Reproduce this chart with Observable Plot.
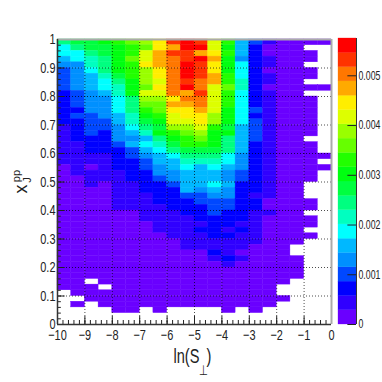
<!DOCTYPE html>
<html><head><meta charset="utf-8">
<script src="https://cdn.jsdelivr.net/npm/d3@7"></script>
<script src="https://cdn.jsdelivr.net/npm/@observablehq/plot@0.6"></script>
<style>
html,body{margin:0;padding:0;background:#fff}
#chart{position:relative;width:382px;height:382px;overflow:hidden}
#chart svg{position:absolute;left:0;top:0;background:transparent}
</style></head><body><div id="chart"></div>
<script>
// Colour-band palette, lowest band first (ROOT-style 20 contours)
const palette = ["#6a00ff","#3000ff","#0000ff","#0048ff","#0090ff","#00b8ff","#00ffff","#00ffc0","#00ff80","#00ff40",
  "#00ff10","#22ff00","#66ff00","#99ff00","#ddff00","#ffee00","#ffaa00","#ff7700","#ff3300","#ff0000"];
const bandWidth = 0.0002875;            // z per band
const nBands = 20;
const binX = 0.5, binY = 0.02;          // histogram bin widths
// One string per x bin (left to right), one character per y bin (top to bottom).
// Character = colour band in base 20; "." = empty bin.
const columns = [
"8665433332222221111111000"+"0000000000000000000"+"......",
"9866444443332322221111110"+"00000000000000000000"+"."+"0"+"...",
"9987765554444333322211011"+"1"+"0000000000000000"+"."+"000"+"....",
"a998887665444433222211111"+"000000000000000000"+"."+"000"+"...",
"baaaaa9877666554"+"443222211"+"11111"+"000000000000000000"+"..",
"cbbcbbbaaa888776"+"545332222"+"11111"+"000000000000000000"+"..",
"dceefdddcedcba98"+"756543322"+"22"+"11111"+"000000000000000"+"...",
"ffgggffefedccba9"+"a87655443"+"2222"+"11111"+"00000000000000"+"..",
"igihhhhhhhfgfeed"+"ba9865544"+"3"+"2222"+"11111"+"000000000000"+"...",
"jjiijjjijghgffed"+"cbb987655"+"553222"+"111111"+"0000000000"+"...",
"ijgjiiihhihhgffe"+"dcb987555"+"543322212111"+"0000000000"+"...",
"eefgffggeeeeeddb"+"aaa987655"+"65433322221121"+"00000000"+"...",
"babaaabbcbbbaaa9"+"a88866544"+"544332221211121"+"00000000"+"..",
"5554666776666665"+"555544433"+"2222222"+"1211101"+"00000000"+"...",
"3222222222223233"+"332222222"+"22122111111"+"000000000000"+"..",
"1001101101111111"+"111111111"+"111001"+"0000000000000000"+"...",
"0000000000000000000000000000000000000000000"+".."+"0"+"....",
"000000000000000000000000000000000000"+".."+"0000"+"........",
"0.00.00.0."+"0000000"+"."+"0000000"+"..."+"00"+"."+"00"+"."+"0"+"...............",
"0"+"......."+"0"+"..........."+"0"+"."+"0"+"..........................."
];
const xMajor = d3.range(-10, 1, 1);
const xMinor = d3.range(0, 51).map(i => -10 + i * 0.2);
const yMajor = d3.range(0, 11).map(i => i / 10);
const yMinor = d3.range(0, 51).map(i => i / 50);
const zTicks = [0, 0.001, 0.002, 0.003, 0.004, 0.005];

const cells = [];
columns.forEach((s, i) => [...s].forEach((c, r) => {
  if (c !== ".") {
    const x1 = -10 + i * binX, y2 = 1 - r * binY;
    cells.push({x1, x2: x1 + binX, y1: y2 - binY, y2, band: parseInt(c, 20)});
  }
}));
const bands = d3.range(nBands).map(b => ({band: b, z1: b * bandWidth, z2: (b + 1) * bandWidth}));

const FONT = "'Liberation Sans',Arial,sans-serif";
const colorScale = {type: "ordinal", domain: d3.range(nBands), range: palette};

const main = Plot.plot({
  width: 382, height: 382,
  marginLeft: 57, marginRight: 51, marginTop: 39, marginBottom: 58,
  style: {background: "transparent", fontFamily: FONT, color: "#222"},
  x: {domain: [-10, 0]},
  y: {domain: [0, 1]},
  color: colorScale,
  marks: [
    Plot.rect(cells, {x1: "x1", x2: "x2", y1: "y1", y2: "y2", fill: "band", stroke: "band", strokeWidth: 0.4}),
    Plot.gridX(d3.range(-9, 0), {stroke: "#000", strokeOpacity: 0.7, strokeWidth: 1, strokeDasharray: "1 2"}),
    Plot.gridY(yMajor.slice(1, 10), {stroke: "#000", strokeOpacity: 0.7, strokeWidth: 1, strokeDasharray: "1 2"}),
    Plot.ruleX(xMinor, {y1: 0, y2: 0.014, stroke: "#222"}),
    Plot.ruleX(xMajor, {y1: 0, y2: 0.028, stroke: "#222"}),
    Plot.ruleY(yMinor, {x1: -10, x2: -9.86, stroke: "#222"}),
    Plot.ruleY(yMajor, {x1: -10, x2: -9.72, stroke: "#222"}),
    Plot.ruleX([0], {stroke: "#aaa", strokeWidth: 2}),
    Plot.ruleY([1], {stroke: "#aaa", strokeWidth: 2}),
    Plot.ruleX([-10], {stroke: "#333", strokeWidth: 1.5}),
    Plot.ruleY([0], {stroke: "#333", strokeWidth: 1.5}),
    Plot.axisX(xMajor, {tickSize: 0, tickPadding: 5, fontSize: 15, label: null, tickFormat: d => d < 0 ? "\u2212" + (-d) : "" + d}),
    Plot.axisY(yMajor, {tickSize: 0, tickPadding: 2, fontSize: 15, label: null, tickFormat: d => "" + d}),
    Plot.text(["ln(S"], {frameAnchor: "bottom", textAnchor: "start", lineAnchor: "middle", dx: -21, dy: 32, fontSize: 20}),
    Plot.text(["\u22A5"], {frameAnchor: "bottom", textAnchor: "middle", lineAnchor: "middle", dx: 9, dy: 46, fontSize: 14, fontFamily: "'DejaVu Sans',sans-serif"}),
    Plot.text([")"], {frameAnchor: "bottom", textAnchor: "start", lineAnchor: "middle", dx: 12, dy: 32, fontSize: 20}),
    Plot.text(["x"], {frameAnchor: "left", textAnchor: "middle", lineAnchor: "middle", rotate: -90, dx: -36, dy: 7, fontSize: 18}),
    Plot.text(["J"], {frameAnchor: "left", textAnchor: "middle", lineAnchor: "middle", rotate: -90, dx: -30, dy: -2, fontSize: 11}),
    Plot.text(["pp"], {frameAnchor: "left", textAnchor: "middle", lineAnchor: "middle", rotate: -90, dx: -41, dy: -6, fontSize: 11})
  ]
});

const bar = Plot.plot({
  width: 382, height: 382,
  marginLeft: 338, marginRight: 26, marginTop: 38, marginBottom: 58,
  style: {background: "transparent", fontFamily: FONT, color: "#222"},
  x: {domain: [0, 1], axis: null},
  y: {domain: [0, nBands * bandWidth], axis: null},
  color: colorScale,
  marks: [
    Plot.rect(bands, {x1: 0, x2: 1, y1: "z1", y2: "z2", fill: "band", stroke: "band", strokeWidth: 0.3}),
    Plot.ruleX([1], {stroke: "#333", strokeWidth: 1}),
    Plot.ruleY(zTicks, {x1: 0.52, x2: 1, stroke: "#222"}),
    Plot.axisY(zTicks, {anchor: "right", tickSize: 0, tickPadding: 2, fontSize: 12, label: null, tickFormat: d => d === 0 ? "0" : d3.format(".3f")(d)})
  ]
});
document.getElementById("chart").append(main, bar);
// The reference's type is horizontally condensed (the image was squeezed): condense each upright label about its anchor.
document.querySelectorAll("#chart svg text").forEach(t => {
  const tr = t.getAttribute("transform") || "";
  if (tr.includes("rotate")) return;
  const x = +(t.getAttribute("x") || 0);
  t.setAttribute("transform", `${tr} translate(${x},0) scale(0.73,1) translate(${-x},0)`);
});
</script></body></html>
